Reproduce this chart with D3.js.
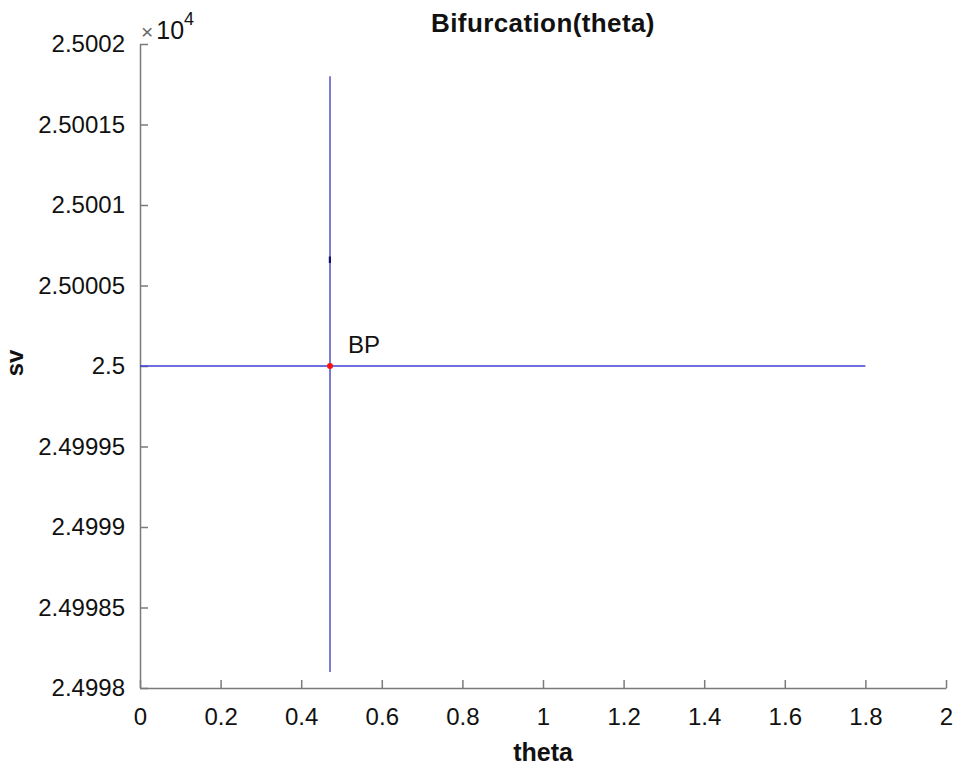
<!DOCTYPE html>
<html>
<head>
<meta charset="utf-8">
<script src="https://cdn.jsdelivr.net/npm/d3@7"></script>
<style>
  body { margin: 0; background: #fff; }
  text { font-family: Arial, "Liberation Sans", sans-serif; fill: #111; }
</style>
</head>
<body>
<div class="canvas"></div>
<script>
// sv values are in units of 1e4
const branchH_theta = [0, 1.8]
const branchH_sv = [2.5, 2.5]
const branchV_theta = [0.4715, 0.4715]
const branchV_sv = [2.49981, 2.50018]
const overlap_theta = [0.4712, 0.4712]
const overlap_sv = [2.500064, 2.500068]
const bpTheta = [0.4715]
const bpSv = [2.5]
const bpLabel = ['BP']

const xTicks = [0, 0.2, 0.4, 0.6, 0.8, 1, 1.2, 1.4, 1.6, 1.8, 2]
const xTickLabels = ['0', '0.2', '0.4', '0.6', '0.8', '1', '1.2', '1.4', '1.6', '1.8', '2']
const yTicks = [2.4998, 2.49985, 2.4999, 2.49995, 2.5, 2.50005, 2.5001, 2.50015, 2.5002]
const yTickLabels = ['2.4998', '2.49985', '2.4999', '2.49995', '2.5', '2.50005', '2.5001', '2.50015', '2.5002']

const width = 960
const height = 766
const margin = { top: 44, right: 14, bottom: 78, left: 140 }

const svg = d3.select('.canvas').append('svg')
  .attr('width', width)
  .attr('height', height)

const x = d3.scaleLinear()
  .domain([0, 2])
  .range([margin.left, width - margin.right])

const y = d3.scaleLinear()
  .domain([2.4998, 2.5002])
  .range([height - margin.bottom, margin.top])

const axisColor = '#7a7a7a'

// axes, ticks pointing inward like matlab
const xAxis = d3.axisBottom(x)
  .tickValues(xTicks)
  .tickFormat((d, i) => xTickLabels[i])
  .tickSizeInner(-8)
  .tickSizeOuter(0)
  .tickPadding(20)

const yAxis = d3.axisLeft(y)
  .tickValues(yTicks)
  .tickFormat((d, i) => yTickLabels[i])
  .tickSizeInner(-8)
  .tickSizeOuter(0)
  .tickPadding(15)

const xAxisGroup = svg.append('g')
  .attr('transform', `translate(0,${height - margin.bottom})`)
  .call(xAxis)

const yAxisGroup = svg.append('g')
  .attr('transform', `translate(${margin.left},0)`)
  .call(yAxis)

;[xAxisGroup, yAxisGroup].forEach(g => {
  g.select('.domain').attr('stroke', axisColor).attr('stroke-width', 1.5)
  g.selectAll('.tick line').attr('stroke', axisColor).attr('stroke-width', 1.5)
  g.selectAll('.tick text')
    .attr('font-size', 24)
    .attr('font-family', 'Arial, "Liberation Sans", sans-serif')
    .attr('fill', '#111')
})

// branches
const line = d3.line()
  .x(d => x(d[0]))
  .y(d => y(d[1]))

const branches = [
  { th: branchH_theta, sv: branchH_sv, color: '#3f3fd8', w: 1.3 },
  { th: branchV_theta, sv: branchV_sv, color: '#3535c0', w: 1.3 },
  { th: overlap_theta, sv: overlap_sv, color: '#10106a', w: 2.2 }
]

svg.selectAll('path.branch')
  .data(branches)
  .enter().append('path')
  .attr('class', 'branch')
  .attr('fill', 'none')
  .attr('stroke', d => d.color)
  .attr('stroke-width', d => d.w)
  .attr('d', d => line(d.th.map((t, i) => [t, d.sv[i]])))

// bifurcation point
svg.selectAll('circle.bp')
  .data(bpTheta)
  .enter().append('circle')
  .attr('class', 'bp')
  .attr('cx', d => x(d))
  .attr('cy', (d, i) => y(bpSv[i]))
  .attr('r', 3)
  .attr('fill', '#ff1010')

svg.selectAll('text.bplabel')
  .data(bpTheta)
  .enter().append('text')
  .attr('class', 'bplabel')
  .attr('x', d => x(d) + 18)
  .attr('y', (d, i) => y(bpSv[i]) - 13)
  .attr('font-size', 24)
  .text((d, i) => bpLabel[i])

// exponent marker
const expo = svg.append('text')
  .attr('x', margin.left + 1)
  .attr('y', 39)
  .attr('font-size', 25)
expo.append('tspan').attr('font-size', 21).attr('fill', '#666').text('×')
expo.append('tspan').attr('dx', 3).text('10')
expo.append('tspan').attr('font-size', 18).attr('dy', -14).text('4')

// title and labels
const cx = (margin.left + width - margin.right) / 2

svg.append('text')
  .attr('x', cx)
  .attr('y', 32)
  .attr('text-anchor', 'middle')
  .attr('font-size', 26)
  .attr('font-weight', 'bold')
  .attr('letter-spacing', 0.4)
  .text('Bifurcation(theta)')

svg.append('text')
  .attr('x', cx)
  .attr('y', 761)
  .attr('text-anchor', 'middle')
  .attr('font-size', 25)
  .attr('font-weight', 'bold')
  .text('theta')

svg.append('text')
  .attr('transform', `translate(23,${y(2.5) - 3}) rotate(-90)`)
  .attr('text-anchor', 'middle')
  .attr('font-size', 24)
  .attr('font-weight', 'bold')
  .text('sv')
</script>
</body>
</html>
